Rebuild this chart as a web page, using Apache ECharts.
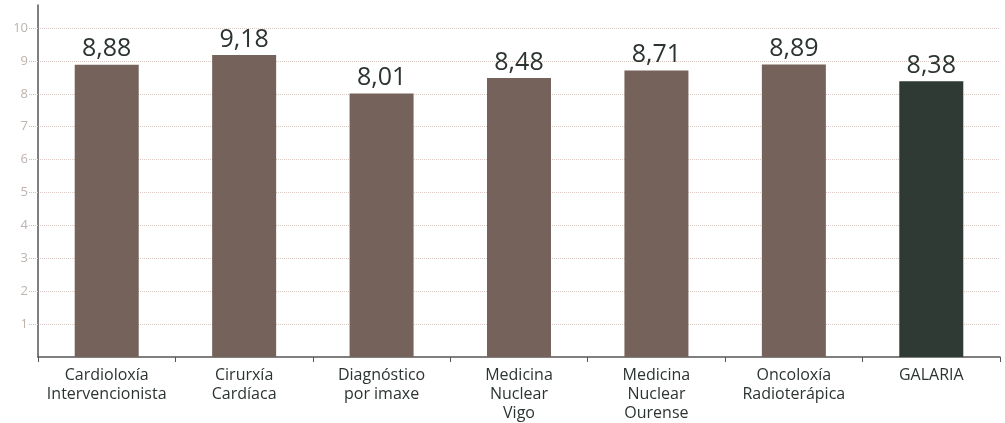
<!DOCTYPE html>
<html>
<head>
<meta charset="utf-8">
<script src="https://cdn.jsdelivr.net/npm/echarts@6/dist/echarts.min.js"></script>
<style>
  html, body { margin: 0; padding: 0; background: #fff; }
  #chart { width: 1005px; height: 423px; }
</style>
</head>
<body>
<div id="chart"></div>
<script>
// categorías e valores
var categories = ['Cardioloxía\nIntervencionista', 'Cirurxía\nCardíaca', 'Diagnóstico\npor imaxe', 'Medicina\nNuclear\nVigo', 'Medicina\nNuclear\nOurense', 'Oncoloxía\nRadioterápica', 'GALARIA'];
var values = [8.88, 9.18, 8.01, 8.48, 8.71, 8.89, 8.38];
var yTicks = [1, 2, 3, 4, 5, 6, 7, 8, 9, 10];

var barColor = '#75635b';
var totalColor = '#2f3a34';

var chart = echarts.init(document.getElementById('chart'));
chart.setOption({
  animation: false,
  grid: { left: 38, right: 5, top: 5, bottom: 64, containLabel: false },
  xAxis: {
    type: 'category',
    data: categories,
    axisLine: { lineStyle: { color: '#555', width: 1.5 } },
    axisTick: { show: true, length: 5, lineStyle: { color: '#555' } },
    axisLabel: {
      color: '#2b3430',
      fontFamily: 'Open Sans',
      fontSize: 16,
      lineHeight: 19,
      margin: 9,
      interval: 0
    }
  },
  yAxis: {
    type: 'value',
    min: 0,
    max: 10.7,
    axisLine: { show: true, lineStyle: { color: '#555', width: 1.5 } },
    axisTick: {
      show: true,
      length: 9,
      customValues: yTicks,
      lineStyle: { color: '#c9bdb7', type: 'dotted' }
    },
    axisLabel: {
      customValues: yTicks,
      color: '#bdb3ae',
      fontFamily: 'Open Sans',
      fontSize: 13,
      margin: 10
    },
    splitLine: {
      show: true,
      lineStyle: { color: '#d9c9c2', type: 'dotted' }
    }
  },
  series: [{
    type: 'bar',
    barWidth: 64,
    data: values.map(function (v, i) {
      return {
        value: v,
        itemStyle: { color: i === values.length - 1 ? totalColor : barColor }
      };
    }),
    label: {
      show: true,
      position: 'top',
      distance: 3,
      color: '#2b3430',
      fontFamily: 'Open Sans',
      fontSize: 25,
      formatter: function (p) { return p.value.toFixed(2).replace('.', ','); }
    }
  }]
});
</script>
</body>
</html>
